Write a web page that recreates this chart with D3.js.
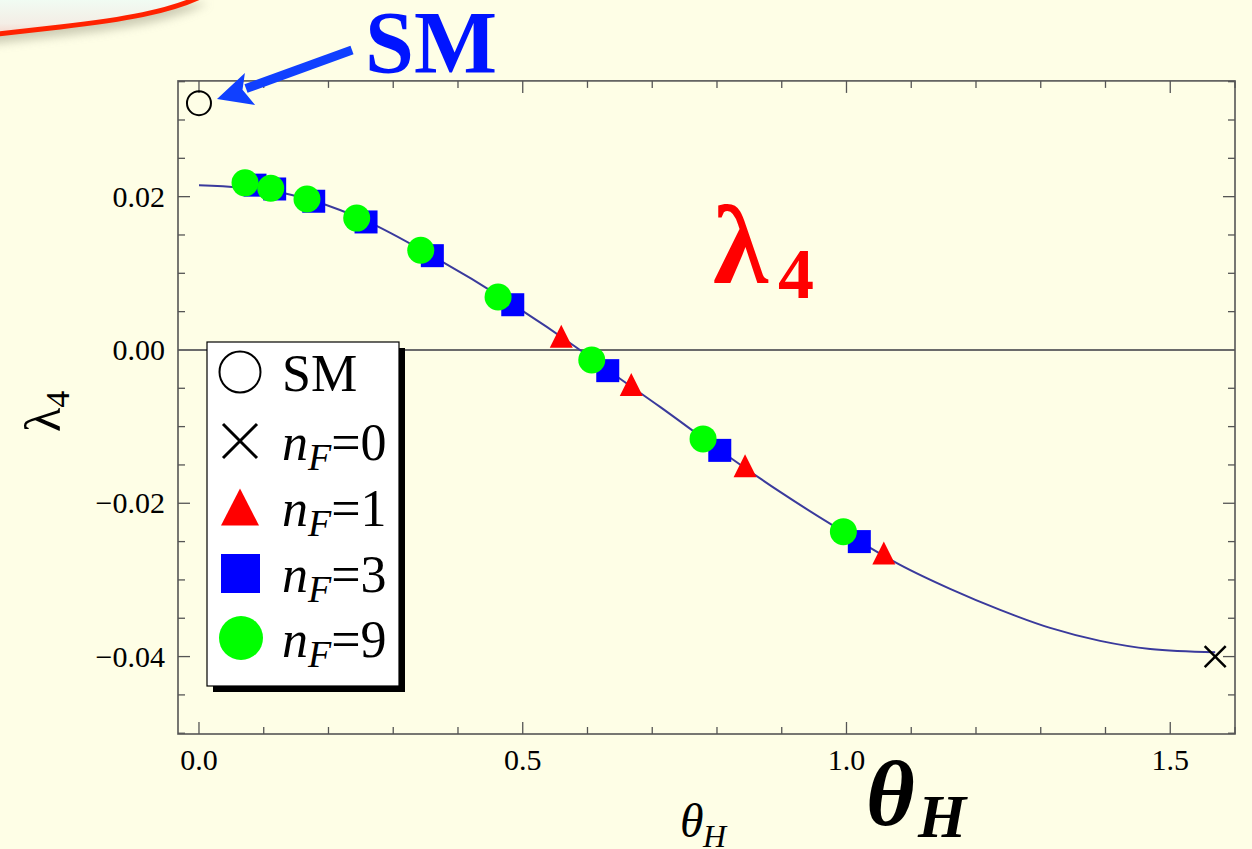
<!DOCTYPE html>
<html>
<head>
<meta charset="utf-8">
<script src="https://cdn.jsdelivr.net/npm/d3@7"></script>
<style>
  body { margin: 0; background: #fefee6; }
  svg { display: block; }
  text { font-family: "Liberation Serif", "DejaVu Serif", serif; }
</style>
</head>
<body>
<script>
// values
var smTheta = [0.0], smLambda = [0.0322];
var nf0Theta = [1.5694], nf0Lambda = [-0.0400];
var nf1Theta = [0.5595, 0.6676, 0.8434, 1.0576];
var nf1Lambda = [0.0018, -0.0045, -0.0151, -0.0265];
var nf3Theta = [0.0865, 0.1169, 0.1772, 0.2580, 0.3604, 0.4846, 0.6313, 0.8043, 1.0198];
var nf3Lambda = [0.0215, 0.0210, 0.0194, 0.0167, 0.0123, 0.0059, -0.0027, -0.0131, -0.0250];
var nf9Theta = [0.0711, 0.1108, 0.1668, 0.2436, 0.3425, 0.4619, 0.6066, 0.7785, 0.9952];
var nf9Lambda = [0.0218, 0.0211, 0.0197, 0.0172, 0.0130, 0.0069, -0.0013, -0.0116, -0.0237];

// the fitted curve
var curveTheta = [0, 0.0633, 0.1174, 0.1776, 0.2580, 0.3600, 0.4850, 0.5885, 0.6318, 0.7121,
                  0.8048, 0.8975, 1.0195, 1.0828, 1.1600, 1.2373, 1.3145, 1.3917, 1.4690, 1.5694];
var curveLambda = [0.02148, 0.02119, 0.02067, 0.01943, 0.01683, 0.01226, 0.00591, 0.0, -0.00265, -0.00743,
                   -0.01311, -0.01852, -0.02495, -0.02804, -0.03117, -0.03391, -0.03626, -0.03795, -0.03900, -0.03943];

var xMajor = [0, 0.5, 1.0, 1.5];
var yMajor = [-0.04, -0.02, 0.0, 0.02];
var legendLabels = ["SM", "0", "1", "3", "9"];

var width = 1252, height = 849;
var pLeft = 178, pRight = 1235, pTop = 80.9, pBottom = 734;

var svg = d3.select("body").append("svg")
  .attr("width", width)
  .attr("height", height);

var defs = svg.append("defs");
var grad = defs.append("linearGradient").attr("id", "boxfill")
  .attr("x1", 0).attr("y1", 0).attr("x2", 0).attr("y2", 1);
grad.append("stop").attr("offset", "0%").attr("stop-color", "#f0fff6");
grad.append("stop").attr("offset", "70%").attr("stop-color", "#f4eee6");
grad.append("stop").attr("offset", "100%").attr("stop-color", "#f6d2c8");
defs.append("filter").attr("id", "blur")
  .attr("x", "-20%").attr("y", "-20%").attr("width", "140%").attr("height", "160%")
  .append("feGaussianBlur").attr("stdDeviation", 5);

svg.append("rect").attr("width", width).attr("height", height).attr("fill", "#fefee6");

// bit of a title box poking in at the top left
var boxPath = "M -20 36 L 60 27 C 120 20, 172 12, 206 -6 L -20 -6 Z";
svg.append("path").attr("d", boxPath)
  .attr("transform", "translate(2,9)")
  .attr("fill", "#b8b8a0").attr("opacity", 0.7)
  .attr("filter", "url(#blur)");
svg.append("path").attr("d", boxPath).attr("fill", "url(#boxfill)");
svg.append("path").attr("d", "M -20 36 L 60 27 C 120 20, 172 12, 206 -6")
  .attr("fill", "none").attr("stroke", "#ff2200").attr("stroke-width", 5);

var x = d3.scaleLinear().domain([-0.0324, 1.6]).range([pLeft, pRight]);
var y = d3.scaleLinear().domain([-0.0501, 0.0351]).range([pBottom, pTop]);

var xTicks = d3.range(0, 17).map(function(i) { return i / 10; });
var yTicks = d3.range(-10, 8).map(function(i) { return i * 0.005; })
  .filter(function(v) { return v <= 0.0351 && v >= -0.0501; });

function isMajor(v, list) {
  return list.some(function(m) { return Math.abs(m - v) < 1e-9; });
}

var axes = svg.append("g").attr("stroke", "#555").attr("stroke-width", 1.3);

// ticks on all four sides, pointing in
xTicks.forEach(function(v) {
  var len = isMajor(v, xMajor) ? 12 : 7;
  axes.append("line").attr("x1", x(v)).attr("x2", x(v)).attr("y1", pBottom).attr("y2", pBottom - len);
  axes.append("line").attr("x1", x(v)).attr("x2", x(v)).attr("y1", pTop).attr("y2", pTop + len);
});
yTicks.forEach(function(v) {
  var len = isMajor(v, yMajor) ? 12 : 7;
  axes.append("line").attr("y1", y(v)).attr("y2", y(v)).attr("x1", pLeft).attr("x2", pLeft + len);
  axes.append("line").attr("y1", y(v)).attr("y2", y(v)).attr("x1", pRight).attr("x2", pRight - len);
});

// zero line
svg.append("line")
  .attr("x1", pLeft).attr("x2", pRight).attr("y1", y(0)).attr("y2", y(0))
  .attr("stroke", "#6b6b6b").attr("stroke-width", 2);

svg.append("rect")
  .attr("x", pLeft).attr("y", pTop).attr("width", pRight - pLeft).attr("height", pBottom - pTop)
  .attr("fill", "none").attr("stroke", "#555").attr("stroke-width", 1.6);

// tick labels
svg.selectAll(".xlab").data(xMajor).enter().append("text")
  .attr("x", function(d) { return x(d); })
  .attr("y", 770)
  .attr("text-anchor", "middle")
  .attr("font-size", 30)
  .text(function(d) { return d.toFixed(1); });

svg.selectAll(".ylab").data(yMajor).enter().append("text")
  .attr("x", 165)
  .attr("y", function(d) { return y(d) + 10; })
  .attr("text-anchor", "end")
  .attr("font-size", 30)
  .text(function(d) { return (d < 0 ? "\u2212" : "") + Math.abs(d).toFixed(2); });

// the curve
var pts = curveTheta.map(function(t, i) { return [t, curveLambda[i]]; });
svg.append("path")
  .datum(pts)
  .attr("d", d3.line().x(function(d) { return x(d[0]); }).y(function(d) { return y(d[1]); })
    .curve(d3.curveMonotoneX))
  .attr("fill", "none")
  .attr("stroke", "#3a3a9c")
  .attr("stroke-width", 2);

function zip(a, b) { return a.map(function(v, i) { return [v, b[i]]; }); }

// markers
svg.selectAll(".sm").data(zip(smTheta, smLambda)).enter().append("circle")
  .attr("cx", function(d) { return x(d[0]); })
  .attr("cy", function(d) { return y(d[1]); })
  .attr("r", 12)
  .attr("fill", "none").attr("stroke", "#000").attr("stroke-width", 2);

function cross(g, cx, cy, h, w) {
  g.append("path")
    .attr("d", "M" + (cx - h) + "," + (cy - h) + "L" + (cx + h) + "," + (cy + h) +
               "M" + (cx - h) + "," + (cy + h) + "L" + (cx + h) + "," + (cy - h))
    .attr("stroke", "#000").attr("stroke-width", w).attr("fill", "none");
}
zip(nf0Theta, nf0Lambda).forEach(function(d) { cross(svg, x(d[0]), y(d[1]), 10.5, 2.5); });

function tri(cx, cy, w, h) {
  return "M" + cx + "," + (cy - h / 2) + "L" + (cx + w / 2) + "," + (cy + h / 2) +
         "L" + (cx - w / 2) + "," + (cy + h / 2) + "Z";
}
svg.selectAll(".t").data(zip(nf1Theta, nf1Lambda)).enter().append("path")
  .attr("d", function(d) { return tri(x(d[0]), y(d[1]), 23, 23); })
  .attr("fill", "#ff0000");

svg.selectAll(".s").data(zip(nf3Theta, nf3Lambda)).enter().append("rect")
  .attr("x", function(d) { return x(d[0]) - 11.5; })
  .attr("y", function(d) { return y(d[1]) - 11.5; })
  .attr("width", 23).attr("height", 23)
  .attr("fill", "#0000ff");

svg.selectAll(".c").data(zip(nf9Theta, nf9Lambda)).enter().append("circle")
  .attr("cx", function(d) { return x(d[0]); })
  .attr("cy", function(d) { return y(d[1]); })
  .attr("r", 13.5)
  .attr("fill", "#00ff00");

// legend
var lg = svg.append("g");
lg.append("rect").attr("x", 213).attr("y", 348).attr("width", 192).attr("height", 344).attr("fill", "#000");
lg.append("rect").attr("x", 207).attr("y", 342).attr("width", 192).attr("height", 344)
  .attr("fill", "#fff").attr("stroke", "#000").attr("stroke-width", 1.2);

var rowY = [372, 441, 507, 573, 638];
var mx = 240;
lg.append("circle").attr("cx", mx).attr("cy", rowY[0]).attr("r", 20.5)
  .attr("fill", "none").attr("stroke", "#000").attr("stroke-width", 2);
cross(lg, mx, rowY[1], 17, 3);
lg.append("path").attr("d", tri(mx, rowY[2], 38, 37)).attr("fill", "#ff0000");
lg.append("rect").attr("x", mx - 19).attr("y", rowY[3] - 19).attr("width", 39).attr("height", 39).attr("fill", "#0000ff");
lg.append("circle").attr("cx", mx + 1).attr("cy", rowY[4]).attr("r", 22).attr("fill", "#00ff00");

legendLabels.forEach(function(lab, i) {
  var t = lg.append("text").attr("x", 282).attr("y", rowY[i] + 19).attr("font-size", 52);
  if (i === 0) {
    t.text(lab);
  } else {
    t.append("tspan").attr("font-style", "italic").text("n");
    t.append("tspan").attr("font-style", "italic").attr("font-size", 38).attr("dy", 10).text("F");
    t.append("tspan").attr("dy", -10).text("=" + lab);
  }
});

// axis labels
svg.append("text").attr("x", 680).attr("y", 837).attr("font-size", 48).attr("font-style", "italic").text("\u03b8");
svg.append("text").attr("x", 703).attr("y", 847).attr("font-size", 32).attr("font-style", "italic").text("H");

var yl = svg.append("text").attr("transform", "translate(60,432) rotate(-90)").attr("font-size", 50);
yl.append("tspan").text("\u03bb");
yl.append("tspan").attr("font-size", 34).attr("dy", 9).text("4");

// slide annotations
svg.append("text").attr("x", 866).attr("y", 825).attr("font-size", 94)
  .attr("font-weight", "bold").attr("font-style", "italic").text("\u03b8");
svg.append("text").attr("x", 918).attr("y", 837).attr("font-size", 62)
  .attr("font-weight", "bold").attr("font-style", "italic").text("H");

svg.append("text").attr("x", 713).attr("y", 283).attr("font-size", 112)
  .attr("font-weight", "bold").attr("fill", "#ff0000").text("\u03bb");
svg.append("text").attr("x", 778).attr("y", 298).attr("font-size", 72)
  .attr("font-weight", "bold").attr("fill", "#ff0000").text("4");

svg.append("text").attr("x", 365).attr("y", 72).attr("font-size", 88)
  .attr("font-weight", "bold").attr("fill", "#0014ff").text("SM");

// arrow pointing at the SM point
svg.append("line").attr("x1", 352).attr("y1", 50).attr("x2", 246).attr("y2", 88.5)
  .attr("stroke", "#1040ff").attr("stroke-width", 9);
svg.append("path")
  .attr("d", "M217,99 L244.9,72.9 L242.5,89.7 L255.1,105 Z")
  .attr("fill", "#1040ff");
</script>
</body>
</html>
